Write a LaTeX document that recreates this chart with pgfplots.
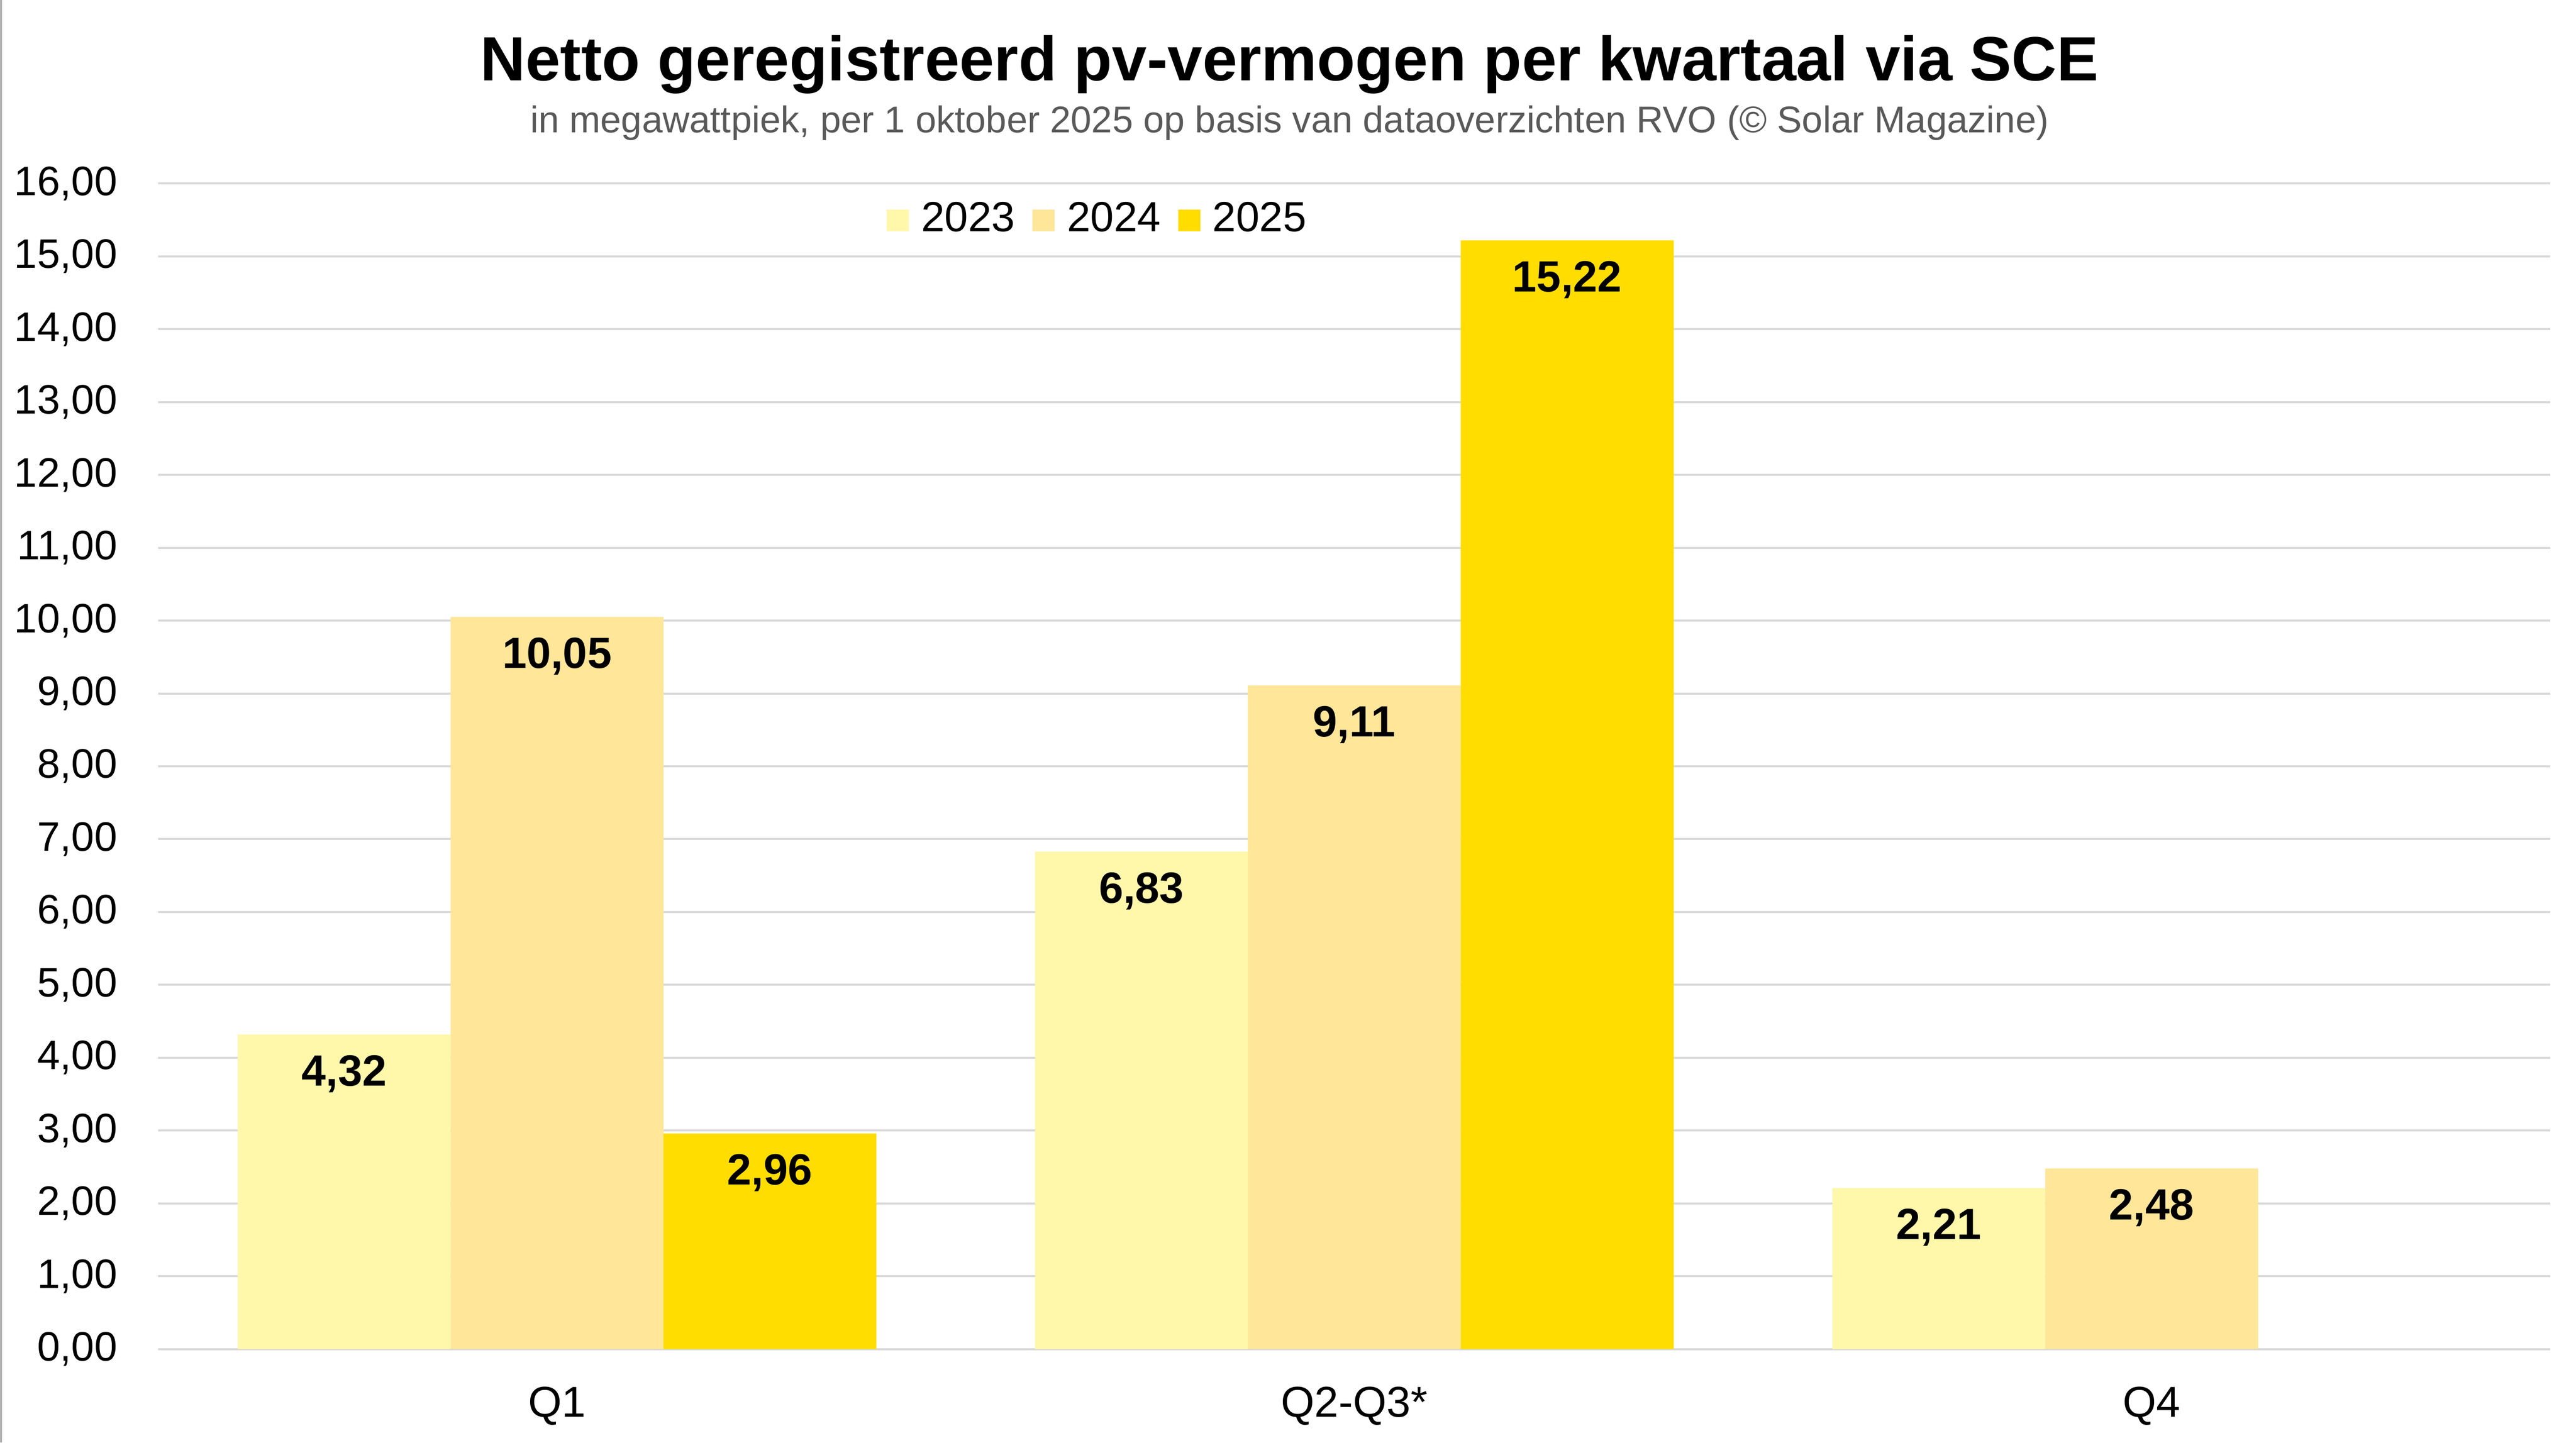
\documentclass[border=0pt]{standalone}
\usepackage{pgfplots}
\pgfplotsset{compat=1.18}
\usepackage{fontspec}
\setmainfont{Liberation Sans}

\definecolor{c23}{RGB}{255,247,170}
\definecolor{c24}{RGB}{255,230,153}
\definecolor{c25}{RGB}{255,221,0}
\definecolor{gridc}{RGB}{217,217,217}
\definecolor{subc}{RGB}{89,89,89}

% 1 px of the reference = 0.1pt
\begin{document}
\begin{tikzpicture}
\path[use as bounding box] (-30.8pt,-18.2pt) rectangle (470.2pt,262.5pt);
\draw[gray!60, line width=0.4pt] (-30.6pt,-18.2pt) -- (-30.6pt,262.5pt);

\begin{axis}[
    at={(0,0)}, anchor=south west,
    scale only axis,
    width=465.2pt, height=226.8pt,
    ybar=0pt, bar width=41.4pt,
    xmin=-0.5, xmax=2.5,
    ymin=0, ymax=16,
    xtick={0,1,2},
    xticklabels={Q1,Q2-Q3*,Q4},
    ytick={0,1,...,16},
    ymajorgrids=true,
    grid style={gridc, line width=0.4pt},
    axis line style={draw=none},
    major tick length=0pt,
    /pgf/number format/assume math mode=true,
    yticklabel style={/pgf/number format/.cd, fixed, fixed zerofill, precision=2, use comma, /tikz/.cd,
        font=\fontsize{8.0}{9.6}\selectfont, anchor=base east, inner sep=0pt, xshift=-7.8pt, yshift=-2.3pt},
    xticklabel style={font=\fontsize{8.4}{10}\selectfont, anchor=base, inner sep=0pt, yshift=-13.2pt},
    nodes near coords={\pgfmathprintnumber[fixed, fixed zerofill, precision=2, use comma]{\pgfplotspointmeta}},
    nodes near coords style={font=\bfseries\fontsize{8.5}{10}\selectfont, anchor=base, inner sep=0pt, yshift=-10pt},
    legend columns=3,
    legend style={at={(0.3923,0.9683)}, anchor=center, draw=none, fill=none,
        font=\fontsize{8.2}{9.8}\selectfont, nodes={inner sep=0pt},
        /tikz/every odd column/.append style={column sep=2.4pt},
        /tikz/every even column/.append style={column sep=3.4pt}},
]
\addplot[fill=c23, draw=none, legend image code/.code={\fill[c23] (0pt,-2.15pt) rectangle (4.3pt,2.15pt);}]
    coordinates {(0,4.32) (1,6.83) (2,2.21)};
\addplot[fill=c24, draw=none, legend image code/.code={\fill[c24] (0pt,-2.15pt) rectangle (4.3pt,2.15pt);}]
    coordinates {(0,10.05) (1,9.11) (2,2.48)};
\addplot[fill=c25, draw=none, legend image code/.code={\fill[c25] (0pt,-2.15pt) rectangle (4.3pt,2.15pt);}]
    coordinates {(0,2.96) (1,15.22)};
\legend{2023,2024,2025}
\end{axis}

\node[anchor=base, font=\bfseries\fontsize{12.15}{14.5}\selectfont] at (220pt,246.8pt)
    {Netto geregistreerd pv-vermogen per kwartaal via SCE};
\node[anchor=base, text=subc, font=\fontsize{7.25}{8.7}\selectfont] at (220pt,236.7pt)
    {in megawattpiek, per 1 oktober 2025 op basis van dataoverzichten RVO (© Solar Magazine)};
\end{tikzpicture}
\end{document}
